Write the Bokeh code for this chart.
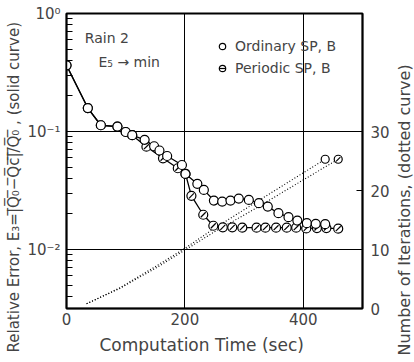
import math
from bokeh.plotting import figure
from bokeh.layouts import row
from bokeh.models import (LinearAxis, LinearScale, Range1d, FixedTicker, Label, Legend,
                          LegendItem, Title)
from bokeh.embed import file_html
from bokeh.resources import INLINE

# ---- data ----
# Ordinary SP, B : relative error vs computation time (solid curve, open circles)
ord_t = [0, 36, 58, 86, 100, 111, 132, 148, 157, 170, 195, 201, 221, 232, 249,
         263, 277, 291, 308, 325, 340, 358, 375, 390, 406, 421, 437]
ord_e = [0.364, 0.158, 0.113, 0.110, 0.099, 0.093, 0.085, 0.075, 0.069, 0.062,
         0.052, 0.0437, 0.036, 0.032, 0.026, 0.0255, 0.026, 0.027, 0.0263, 0.0247,
         0.0231, 0.0203, 0.0188, 0.0176, 0.0167, 0.0165, 0.0164]
# Periodic SP, B : relative error vs computation time (solid curve, slashed circles)
per_t = [0, 36, 58, 86, 100, 111, 135, 163, 188, 201, 211, 231, 248, 264, 280,
         297, 321, 336, 354, 372, 388, 405, 423, 439, 459]
per_e = [0.364, 0.158, 0.113, 0.110, 0.099, 0.093, 0.0743, 0.0593, 0.0488, 0.0437,
         0.0285, 0.0197, 0.0159, 0.0154, 0.0154, 0.0153, 0.0153, 0.0153, 0.0153,
         0.0153, 0.0153, 0.0151, 0.0152, 0.0152, 0.0150]
# Number of iterations vs computation time (dotted curves)
ord_it_t = [34, 90, 155, 200, 250, 320, 400, 437]
ord_it_n = [0.8, 3.5, 7.4, 10.2, 13.6, 18.0, 23.0, 25.3]
per_it_t = [34, 90, 155, 200, 250, 320, 400, 459]
per_it_n = [0.8, 3.4, 7.1, 9.9, 13.0, 17.0, 21.8, 25.3]

x_ticks = [0, 200, 400]
y_ticks = [0.01, 0.1, 1.0]
y_tick_labels = ["10\u207b\u00b2", "10\u207b\u00b9", "10\u2070"]
iter_ticks = [0, 10, 20, 30]
iter_tick_labels = ["0", "10", "20", "30"]

FONT = "DejaVu Sans"
H = 362
RW = 22                  # side strip holding the right axis title
PW = 414 - RW

p = figure(width=PW, height=H, x_range=Range1d(0, 500),
           y_range=Range1d(10 ** -2.5, 1.0), y_axis_type="log",
           output_backend="svg", toolbar_location=None,
           min_border_left=64, min_border_right=PW - 362,
           min_border_top=13, min_border_bottom=54,
           background_fill_color="white", border_fill_color="white")
p.extra_y_ranges = {"iter": Range1d(0, 50)}
p.extra_y_scales = {"iter": LinearScale()}

p.outline_line_color = "black"
p.outline_line_width = 2

# axes
minor = [k * 10.0 ** e for e in (-3, -2, -1) for k in range(2, 10) if k * 10.0 ** e > 10 ** -2.5]
ya = p.yaxis[0]
ya.ticker = FixedTicker(ticks=y_ticks, minor_ticks=minor)
ya.major_label_overrides = {t: l for t, l in zip(y_ticks, y_tick_labels)}
ya.major_tick_in = 0
ya.major_tick_out = 0
ya.minor_tick_in = 6
ya.minor_tick_out = 0
ya.axis_line_width = 1.5
ya.major_label_text_font = FONT
ya.major_label_text_font_size = "15px"
ya.major_label_standoff = 6

xa = p.xaxis[0]
xa.ticker = FixedTicker(ticks=x_ticks)
xa.major_tick_in = 0
xa.major_tick_out = 0
xa.minor_tick_in = 0
xa.minor_tick_out = 0
xa.axis_line_width = 1.5
xa.major_label_text_font = FONT
xa.major_label_text_font_size = "15px"
xa.major_label_standoff = 4

ra = LinearAxis(y_range_name="iter", ticker=FixedTicker(ticks=iter_ticks))
ra.major_label_overrides = {t: l for t, l in zip(iter_ticks, iter_tick_labels)}
ra.major_tick_in = 6
ra.major_tick_out = 0
ra.minor_tick_in = 0
ra.minor_tick_out = 0
ra.axis_line_width = 1.5
ra.major_label_text_font = FONT
ra.major_label_text_font_size = "15px"
ra.major_label_standoff = 8
p.add_layout(ra, "right")

p.xgrid.grid_line_color = "black"
p.xgrid.grid_line_width = 1
p.xgrid.grid_line_alpha = 1
p.ygrid.grid_line_color = "black"
p.ygrid.grid_line_width = 1
p.ygrid.grid_line_alpha = 1

# axis titles as Title annotations (placed along the frame, with offsets)
over = "".join(c + "\u0305" for c in "|Q\u2080\u2212Qc|/Q\u2080")
left_title = "Relative Error, E\u2083=" + over + " , (solid curve)"
p.add_layout(Title(text=left_title, align="left", offset=-44, standoff=4,
                   text_font=FONT, text_font_size="15px",
                   text_font_style="normal"), "left")
p.add_layout(Title(text="Computation  Time (sec)", align="left", offset=33,
                   standoff=11, text_font=FONT, text_font_size="17px",
                   text_font_style="normal"), "below")

# dotted iteration curves
p.line(ord_it_t, ord_it_n, y_range_name="iter", line_color="black",
       line_width=1.1, line_dash="1 2")
p.line(per_it_t, per_it_n, y_range_name="iter", line_color="black",
       line_width=1.1, line_dash="1 2")
p.scatter(ord_it_t[-1:], ord_it_n[-1:], y_range_name="iter", marker="circle",
          size=8, fill_color="white", line_color="black", line_width=1.2)
p.scatter(per_it_t[-1:], per_it_n[-1:], y_range_name="iter", marker="circle",
          size=8, fill_color="white", line_color="black", line_width=1.2)
p.scatter(per_it_t[-1:], per_it_n[-1:], y_range_name="iter", marker="dash",
          size=6, angle=math.pi / 4, line_color="black", line_width=1.2)

# periodic (drawn first)
p.line(per_t, per_e, line_color="black", line_width=1.3)
r_pc = p.scatter(per_t, per_e, marker="circle", size=9, fill_color="white",
                 line_color="black", line_width=1.2)
r_pd = p.scatter(per_t, per_e, marker="dash", size=7, angle=math.pi / 4,
                 line_color="black", line_width=1.2)
# ordinary
p.line(ord_t, ord_e, line_color="black", line_width=1.3)
r_oc = p.scatter(ord_t, ord_e, marker="circle", size=9, fill_color="white",
                 line_color="black", line_width=1.2)

legend = Legend(items=[LegendItem(label="Ordinary SP, B", renderers=[r_oc]),
                       LegendItem(label="Periodic SP, B", renderers=[r_pc, r_pd])],
                location=(148, 232), padding=0, margin=0, spacing=6,
                glyph_width=16, glyph_height=16, label_height=16,
                label_standoff=5, border_line_color=None,
                background_fill_alpha=0,
                label_text_font=FONT, label_text_font_size="14px")
p.add_layout(legend)

p.add_layout(Label(x=31, y=0.615, text="Rain 2", text_font=FONT,
                   text_font_size="14px", text_baseline="middle"))
p.add_layout(Label(x=54, y=0.385, text="E\u2085 \u2192 min", text_font=FONT,
                   text_font_size="14px", text_baseline="middle"))

# right strip: its left-side Title reads bottom-to-top like the reference
pr = figure(width=RW, height=H, x_range=Range1d(0, 1), y_range=Range1d(0, 1),
            output_backend="svg", toolbar_location=None, min_border=0,
            x_axis_location=None, y_axis_location=None,
            background_fill_color="white", border_fill_color="white")
pr.outline_line_color = None
pr.grid.visible = False
pr.add_layout(Title(text="Number  of  Iterations, (dotted  curve)", align="left",
                    offset=-47, standoff=0, text_font=FONT, text_font_size="16px",
                    text_font_style="normal"), "left")

layout = row(p, pr, spacing=0)
open("out.html", "w").write(file_html(layout, INLINE))
